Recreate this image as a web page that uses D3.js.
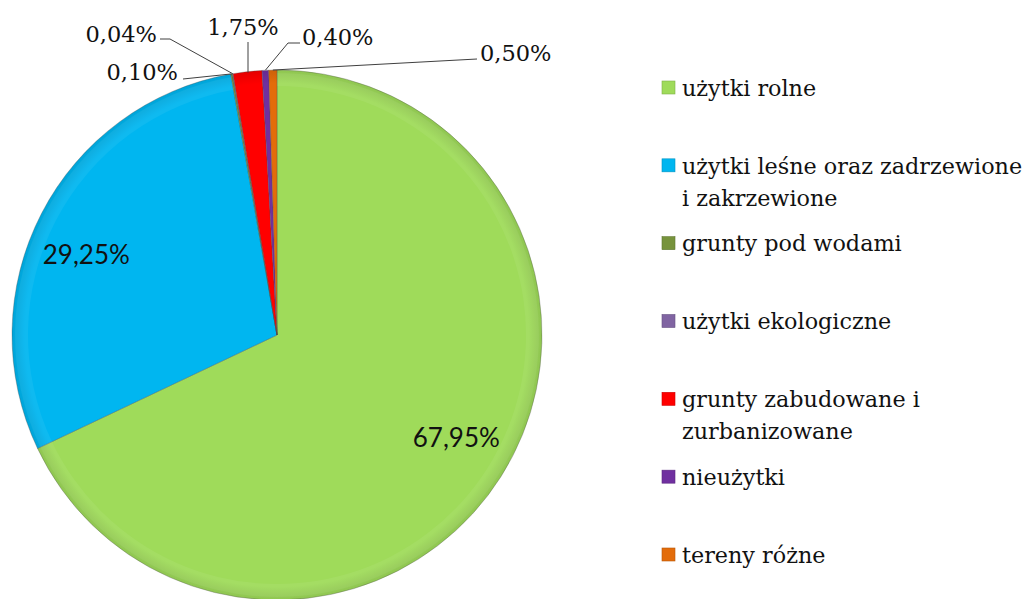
<!DOCTYPE html>
<html>
<head>
<meta charset="utf-8">
<script src="https://cdn.jsdelivr.net/npm/d3@7"></script>
<style>
  body { margin: 0; background: #fff; }
  .pctLabel { font-family: "DejaVu Serif", serif; font-size: 22.5px; fill: #111; }
  .innerLabel { font-family: Lato, "Open Sans", sans-serif; font-size: 26px; fill: #111; }
  .legendText { font-family: "DejaVu Serif", serif; font-size: 22.3px; fill: #111; }
</style>
</head>
<body>
<div id="chart"></div>
<script>
// data, in the order Excel draws them (clockwise from 12 o'clock)
const categories = [
  "użytki rolne",
  "użytki leśne oraz zadrzewione i zakrzewione",
  "grunty pod wodami",
  "użytki ekologiczne",
  "grunty zabudowane i zurbanizowane",
  "nieużytki",
  "tereny różne"
];
const legendLines = [
  ["użytki rolne"],
  ["użytki leśne oraz zadrzewione", "i zakrzewione"],
  ["grunty pod wodami"],
  ["użytki ekologiczne"],
  ["grunty zabudowane i", "zurbanizowane"],
  ["nieużytki"],
  ["tereny różne"]
];
const shares = [67.95, 29.25, 0.10, 0.04, 1.75, 0.40, 0.50];
const colors = ["#9fdb5a", "#00b6f0", "#77933c", "#8064a2", "#ff0000", "#7030a0", "#e36c0a"];

const width = 1029, height = 599;
const cx = 277, cy = 335, radius = 265;

const svg = d3.select("#chart").append("svg")
  .attr("width", width)
  .attr("height", height);

// radial shading: flat colour, a touch darker right at the rim
const defs = svg.append("defs");
colors.forEach((c, i) => {
  let g = defs.append("radialGradient")
    .attr("id", "grad" + i)
    .attr("gradientUnits", "userSpaceOnUse")
    .attr("cx", 0).attr("cy", 0).attr("r", radius);
  g.append("stop").attr("offset", "0%").attr("stop-color", c);
  g.append("stop").attr("offset", "95%").attr("stop-color", c);
  g.append("stop").attr("offset", "100%").attr("stop-color", d3.color(c).darker(0.3));
});

const pie = d3.pie().sort(null).value(d => d);
const arcs = pie(shares);
const arc = d3.arc().innerRadius(0).outerRadius(radius);

const pieG = svg.append("g").attr("transform", `translate(${cx},${cy})`);

pieG.selectAll("path.slice")
  .data(arcs)
  .enter()
  .append("path")
  .attr("class", "slice")
  .attr("d", arc)
  .attr("fill", (d, i) => `url(#grad${i})`)
  .attr("stroke", "#4a4a4a")
  .attr("stroke-opacity", 0.4)
  .attr("stroke-width", 0.8);

// soft bevel highlight just inside the rim
const bevel = d3.arc().innerRadius(radius - 16).outerRadius(radius - 3);
pieG.selectAll("path.bevel")
  .data(arcs.filter(d => d.endAngle - d.startAngle > 0.2))
  .enter()
  .append("path")
  .attr("class", "bevel")
  .attr("d", bevel)
  .attr("fill", "#fff")
  .attr("opacity", 0.06);

const fmt = v => d3.format(".2f")(v).replace(".", ",") + "%";

// inside labels for the two big slices (radius fraction, angle nudge in degrees)
const innerPos = [
  {i: 0, r: 0.78, da: -2.5},
  {i: 1, r: 0.78, da: -4.6}
];
innerPos.forEach(p => {
  let a = arcs[p.i];
  let mid = (a.startAngle + a.endAngle) / 2 + p.da * Math.PI / 180;
  let rr = radius * p.r;
  pieG.append("text")
    .attr("class", "innerLabel")
    .attr("x", rr * Math.sin(mid))
    .attr("y", -rr * Math.cos(mid))
    .attr("dy", "0.35em")
    .attr("text-anchor", "middle")
    .text(fmt(shares[p.i]));
});

// outside labels for the small slices: text position and leader bend
const outside = [
  {i: 2, tx: 178, ty: 80, bend: [183, 79], anchor: "end"},
  {i: 3, tx: 157, ty: 42, bend: [170, 39], anchor: "end", lx: 160},
  {i: 4, tx: 243, ty: 35, bend: [248, 42], anchor: "middle", vertical: true},
  {i: 5, tx: 302, ty: 45, bend: [288, 43], anchor: "start", lx: 300},
  {i: 6, tx: 480, ty: 61, bend: [477, 59], anchor: "start"}
];
const edge = d => {
  let a = (d.startAngle + d.endAngle) / 2;
  return [cx + radius * Math.sin(a), cy - radius * Math.cos(a)];
};
outside.forEach(o => {
  let p = edge(arcs[o.i]);
  let pts;
  if (o.vertical) pts = [[o.bend[0], o.bend[1]], [o.bend[0], p[1] + 1]];
  else if (o.lx !== undefined) pts = [[o.lx, o.bend[1]], o.bend, p];
  else pts = [o.bend, p];
  svg.append("path")
    .attr("d", d3.line()(pts))
    .attr("fill", "none")
    .attr("stroke", "#404040")
    .attr("stroke-width", 1);
  svg.append("text")
    .attr("class", "pctLabel")
    .attr("x", o.tx)
    .attr("y", o.ty)
    .attr("text-anchor", o.anchor)
    .text(fmt(shares[o.i]));
});

// legend
const legendY = d3.scaleLinear().domain([0, categories.length - 1]).range([88, 555]);
const legend = svg.append("g").attr("class", "legend");
legendLines.forEach((lines, i) => {
  let y = legendY(i);
  legend.append("rect")
    .attr("x", 662)
    .attr("y", y - 7)
    .attr("width", 13)
    .attr("height", 13)
    .attr("fill", colors[i])
    .attr("stroke", d3.color(colors[i]).darker(0.6))
    .attr("stroke-width", 0.6);
  let t = legend.append("text")
    .attr("class", "legendText")
    .attr("x", 682)
    .attr("y", y);
  lines.forEach((l, k) => {
    t.append("tspan")
      .attr("x", 682)
      .attr("dy", k === 0 ? "0.35em" : "32px")
      .text(l);
  });
});
</script>
</body>
</html>
